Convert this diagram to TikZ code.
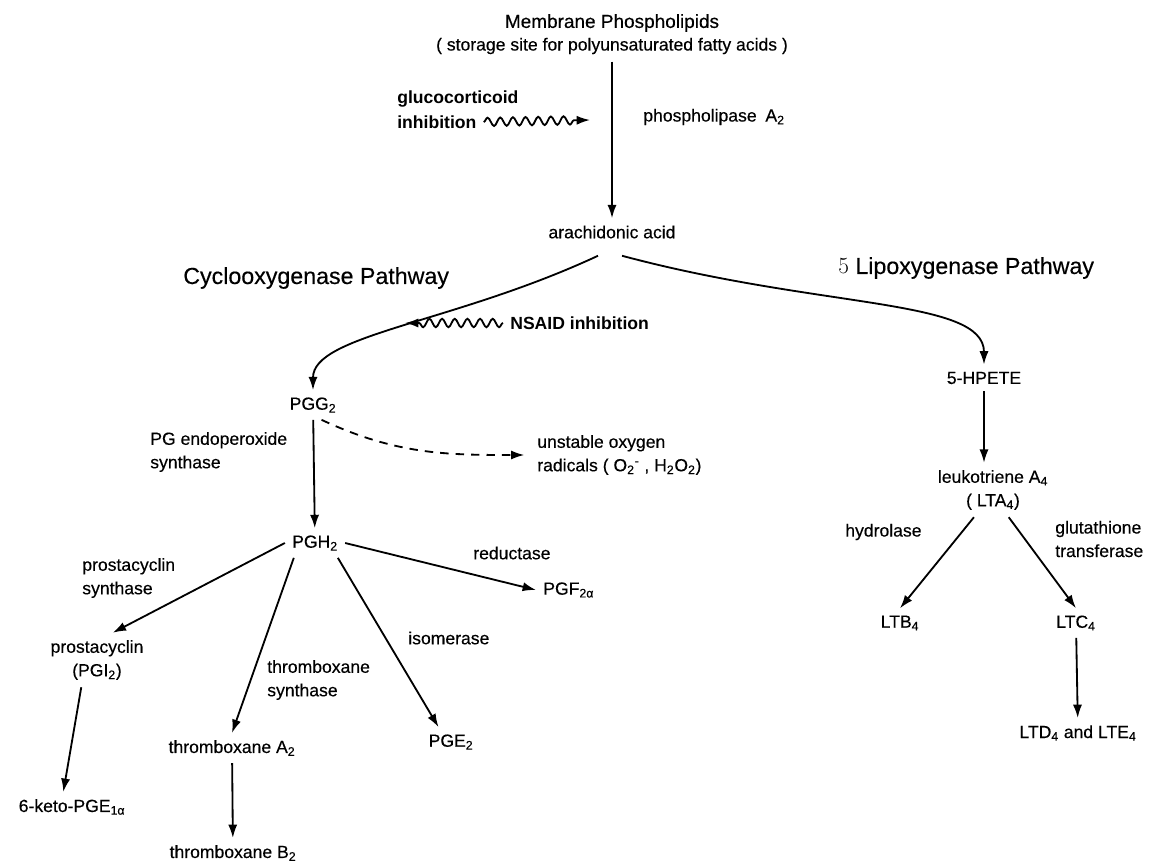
\documentclass[tikz,border=0pt]{standalone}
\usepackage{fontspec}
\setsansfont{Liberation Sans}[UprightFeatures={FakeBold=0.35}]
\usetikzlibrary{arrows.meta,calc,decorations.pathmorphing}

\begin{document}
\begin{tikzpicture}[
		x=0.025cm, y=0.025cm,
		every node/.style = {
			font=\sffamily\fontsize{12.5}{16.7}\selectfont,
			inner sep=5pt
		},
		txt/.style = {anchor=west, align=left},
		pathway/.style = {
			anchor=west,
			font=\sffamily\fontsize{16.5}{20}\selectfont
		},
		inhib/.style = {
			anchor=west,
			font=\sffamily\bfseries\fontsize{12.5}{16.7}\selectfont
		},
		arr/.style = {-{Latex[length=9.5pt,width=6.5pt]}, line width=1.3pt},
		wavy/.style = {
			arr, decorate,
			decoration={snake, amplitude=3pt, segment length=9pt, post length=8pt}
		},
		radical/.style = {arr, dash pattern=on 6pt off 5pt, shorten >=4pt}
	]
	\useasboundingbox (0,0) rectangle (1153,-866);

	% membrane and arachidonic acid
	\node[font=\sffamily\fontsize{13.5}{16.7}\selectfont] (memb) at (612,-23) {Membrane Phospholipids};
	\node (store) at (612,-46) {( storage site for polyunsaturated fatty acids )};
	\node (arach) at (612,-232) {arachidonic acid};
	\draw[arr] (store) -- (arach);

	\node[inhib] (gluco) at (390,-99)  {glucocorticoid};
	\node[inhib] (glinh) at (390,-122) {inhibition};
	\coordinate (plaA) at (590,-120);
	\draw[wavy] (glinh.east) -- (plaA);
	\node[txt] (pla) at (636,-117) {phospholipase\enspace A\textsubscript{2}};

	% the two pathways
	\node[pathway] (cox) at (176,-278) {Cyclooxygenase Pathway};
	\node[pathway] (lox) at (831,-268) {{\rmfamily 5} Lipoxygenase Pathway};

	\node (pgg)   at (313,-405) {PGG\textsubscript{2}};
	\node (hpete) at (984,-378) {5-HPETE};
	\draw[arr] ($(arach.south)+(-14,-10)$)
		to[out=205, in=90, out looseness=1.3, in looseness=0.45] (pgg.north);
	\draw[arr] ($(arach.south)+(10,-10)$)
		to[out=-15, in=90, out looseness=1.4, in looseness=0.45] (hpete.north);

	\node[inhib] (nsaid) at (503,-323) {NSAID inhibition};
	\coordinate (coxtip) at (405,-323);
	\draw[wavy] (nsaid.west) -- (coxtip);

	% cyclooxygenase branch
	\node (pgh) at (315,-543) {PGH\textsubscript{2}};
	\draw[arr] (pgg) -- (pgh);
	\node[txt] (pgesyn) at (143,-452) {PG endoperoxide\\synthase};
	\node[txt] (radic) at (530,-455)
		{unstable oxygen\\radicals ( O\textsubscript{2}\textsuperscript{-} , H\textsubscript{2}O\textsubscript{2})};
	\draw[radical] (pgg.-60) to[out=-25, in=180] (radic.west);

	\node[txt] (pcsyn) at (75,-578) {prostacyclin\\synthase};
	\node[align=center] (pgi) at (97,-660) {prostacyclin\\(PGI\textsubscript{2})};
	\draw[arr] (pgh.west) -- (pgi.60);
	\node (keto) at (72,-807) {6-keto-PGE\textsubscript{1α}};
	\draw[arr] (pgi.240) -- (keto.120);

	\node[txt] (txsyn) at (260,-680) {thromboxane\\synthase};
	\node (txa) at (232,-748) {thromboxane A\textsubscript{2}};
	\draw[arr] (pgh.215) -- (txa.north);
	\node (txb) at (233,-853) {thromboxane B\textsubscript{2}};
	\draw[arr] (txa) -- (txb);

	\node[txt] (isom) at (401,-638) {isomerase};
	\node (pge) at (451,-742) {PGE\textsubscript{2}};
	\draw[arr] (pgh.-33) -- (pge.130);

	\node[txt] (reduc) at (466,-553) {reductase};
	\node[txt] (pgf) at (536,-590) {PGF\textsubscript{2α}};
	\draw[arr] (pgh.east) -- (pgf.west);

	% lipoxygenase branch
	\node[align=center] (lta) at (993,-490) {leukotriene A\textsubscript{4}\\( LTA\textsubscript{4})};
	\draw[arr] (hpete) -- (hpete |- lta.north);
	\node[txt] (hydro) at (838,-532) {hydrolase};
	\node[txt] (gst) at (1048,-539) {glutathione\\transferase};
	\node (ltb) at (900,-623) {LTB\textsubscript{4}};
	\node (ltc) at (1076,-623) {LTC\textsubscript{4}};
	\draw[arr] (lta.235) -- (ltb.north);
	\draw[arr] (lta.300) -- (ltc.north);
	\node (ltd) at (1078,-733) {LTD\textsubscript{4} and LTE\textsubscript{4}};
	\draw[arr] (ltc) -- (ltd);
\end{tikzpicture}
\end{document}
